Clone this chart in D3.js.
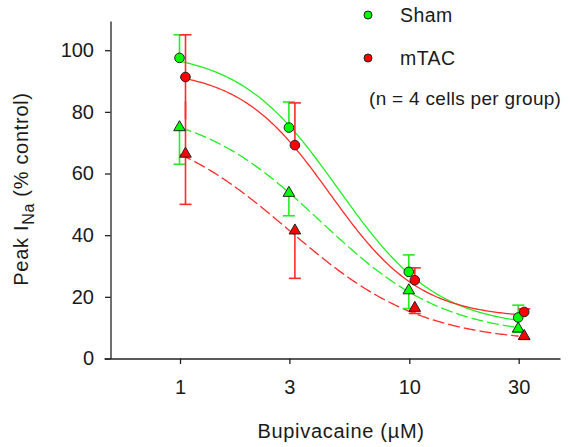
<!DOCTYPE html>
<html><head><meta charset="utf-8">
<script src="https://cdn.jsdelivr.net/npm/d3@7"></script>
<style>
body{margin:0;background:#fff}
svg text{font-family:Arial,"Liberation Sans",sans-serif;fill:#1a1a1a}
</style>
</head><body>
<svg id="chart" width="571" height="447"></svg>
<script>
// ---- data ----
const doses = [1, 3, 10, 30];
const doseLabels = ["1", "3", "10", "30"];
const yTicks = [0, 20, 40, 60, 80, 100];

const shamCircle = [97.5, 74.9, 28.1, 13.3];
const shamCircleErrUp = [7.5, 8.3, 5.5, 4.0];
const mtacCircle = [91.3, 69.2, 25.4, 15.1];
const mtacCircleErrUp = [13.7, 13.7, 4.0, 1.0];
const mtacCircleErrDown = [13.7, 0, 0, 0];

const shamTri = [75.3, 54.0, 22.4, 10.0];
const shamTriErrDown = [12.3, 7.7, 6.2, 1.5];
const mtacTri = [66.7, 41.8, 16.7, 7.6];
const mtacTriErrDown = [16.7, 15.8, 2.1, 1.4];
const mtacTriErrUp = [16.7, 0, 0, 0];

// Hill-fit parameters [top, bottom, IC50, slope]
const shamCircleFit = [100, 10, 4.9, 2.0];
const mtacCircleFit = [94, 13, 4.5, 2.2];
const shamTriFit = [82, 7, 4.1, 1.6];
const mtacTriFit = [78, 5, 3.0, 1.5];

const legendNames = ["Sham", "mTAC"];
const noteText = "(n = 4 cells per group)";

// ---- styles ----
const GREEN = "#00ff00", RED = "#ff0000";
const GREEN_LINE = "#22ee22", RED_LINE = "#ff2a2a";
const LS = "0.7px";

const svg = d3.select("#chart");

const x = d3.scaleLog().domain([1, 30]).range([180, 518.7]);
const xAxisScale = d3.scaleLog().domain([x.invert(104), x.invert(560)]).range([104, 560]);
const y = d3.scaleLinear().domain([0, 100]).range([358.5, 50.2]);
const yTop = y.invert(21);
const yAxisScale = d3.scaleLinear().domain([0, yTop]).range([358.5, 21]);

// axes
const xAxis = svg.append("g").attr("transform", "translate(0,358.5)")
  .call(d3.axisBottom(xAxisScale).tickValues(doses).tickFormat((d, i) => doseLabels[i])
    .tickSizeOuter(0).tickSizeInner(5.5).tickPadding(16));
const yAxis = svg.append("g").attr("transform", "translate(110.5,0)")
  .call(d3.axisLeft(yAxisScale).tickValues(yTicks).tickSizeOuter(0).tickSizeInner(5.5).tickPadding(11));
[xAxis, yAxis].forEach(g => {
  g.selectAll("path,line").attr("stroke", "#222").attr("stroke-width", 1.3);
  g.selectAll("text").attr("font-size", 20).attr("font-family", "Arial, 'Liberation Sans', sans-serif").attr("fill", "#1a1a1a");
});

// axis titles
svg.append("text").attr("x", 341).attr("y", 438).attr("text-anchor", "middle")
  .attr("font-size", 20).attr("letter-spacing", LS).text("Bupivacaine (µM)");
const yl = svg.append("text").attr("transform", "translate(28,189) rotate(-90)")
  .attr("text-anchor", "middle").attr("font-size", 20).attr("letter-spacing", LS);
yl.append("tspan").text("Peak I");
yl.append("tspan").attr("font-size", 16).attr("dy", 6).text("Na");
yl.append("tspan").attr("dy", -6).text(" (% control)");

// fit curves
const hill = p => c => p[1] + (p[0] - p[1]) / (1 + Math.pow(c / p[2], p[3]));
const sampleC = d3.range(0, 201).map(i => Math.pow(10, i * Math.log10(30) / 200));
const line = d3.line().x(d => x(d[0])).y(d => y(d[1]));
function drawFit(p, color, dashed) {
  const f = hill(p);
  svg.append("path").attr("d", line(sampleC.map(c => [c, f(c)])))
    .attr("fill", "none").attr("stroke", color).attr("stroke-width", 1.3)
    .attr("stroke-dasharray", dashed ? "12,4" : null);
}
drawFit(shamCircleFit, GREEN_LINE, false);
drawFit(mtacCircleFit, RED_LINE, false);
drawFit(shamTriFit, GREEN_LINE, true);
drawFit(mtacTriFit, RED_LINE, true);

// error bars
function errBars(vals, up, down, color, dx) {
  const g = svg.append("g").attr("stroke", color).attr("stroke-width", 1.6);
  doses.forEach((d, i) => {
    const cx = x(d) + dx;
    if (up && up[i] > 0)
      g.append("line").attr("x1", cx).attr("x2", cx).attr("y1", y(vals[i])).attr("y2", y(vals[i] + up[i]));
    if (down && down[i] > 0)
      g.append("line").attr("x1", cx).attr("x2", cx).attr("y1", y(vals[i])).attr("y2", y(vals[i] - down[i]));
  });
}
function caps(vals, errs, sign, color, dx) {
  const g = svg.append("g").attr("stroke", color).attr("stroke-width", 1.6);
  doses.forEach((d, i) => {
    const cx = x(d) + dx, cy = y(vals[i] + sign * errs[i]);
    g.append("line").attr("x1", cx - 6).attr("x2", cx + 6).attr("y1", cy).attr("y2", cy);
  });
}
const DXR = 5.5, DXG = -0.5;
errBars(shamCircle, shamCircleErrUp, null, GREEN_LINE, DXG);
caps(shamCircle, shamCircleErrUp, 1, GREEN_LINE, DXG);
errBars(shamTri, null, shamTriErrDown, GREEN_LINE, DXG);
caps(shamTri, shamTriErrDown, -1, GREEN_LINE, DXG);
errBars(mtacCircle, mtacCircleErrUp, mtacCircleErrDown, RED_LINE, DXR);
caps(mtacCircle, mtacCircleErrUp, 1, RED_LINE, DXR);
errBars(mtacTri, mtacTriErrUp, mtacTriErrDown, RED_LINE, DXR);
caps(mtacTri, mtacTriErrDown, -1, RED_LINE, DXR);

// markers
const tri = d3.symbol().type(d3.symbolTriangle).size(58);
function circles(vals, color, dx) {
  svg.append("g").selectAll("circle").data(vals).join("circle")
    .attr("cx", (v, i) => x(doses[i]) + dx).attr("cy", v => y(v)).attr("r", 4.8)
    .attr("fill", color).attr("stroke", "#222").attr("stroke-width", 1);
}
function triangles(vals, color, dx) {
  svg.append("g").selectAll("path").data(vals).join("path")
    .attr("d", tri).attr("transform", (v, i) => `translate(${x(doses[i]) + dx},${y(v) + 1})`)
    .attr("fill", color).attr("stroke", "#222").attr("stroke-width", 1);
}
triangles(shamTri, GREEN, DXG);
triangles(mtacTri, RED, DXR);
circles(shamCircle, GREEN, DXG);
circles(mtacCircle, RED, DXR);

// legend
const legColors = [GREEN, RED];
legendNames.forEach((n, i) => {
  const ly = 15 + i * 43;
  svg.append("circle").attr("cx", 368).attr("cy", ly).attr("r", 4)
    .attr("fill", legColors[i]).attr("stroke", "#222").attr("stroke-width", 1);
  svg.append("text").attr("x", 400).attr("y", ly + 7).attr("font-size", 19.5)
    .attr("letter-spacing", "0.4px").text(n);
});
svg.append("text").attr("x", 369).attr("y", 105).attr("font-size", 19)
  .attr("letter-spacing", "0.3px").text(noteText);
</script>
</body></html>
